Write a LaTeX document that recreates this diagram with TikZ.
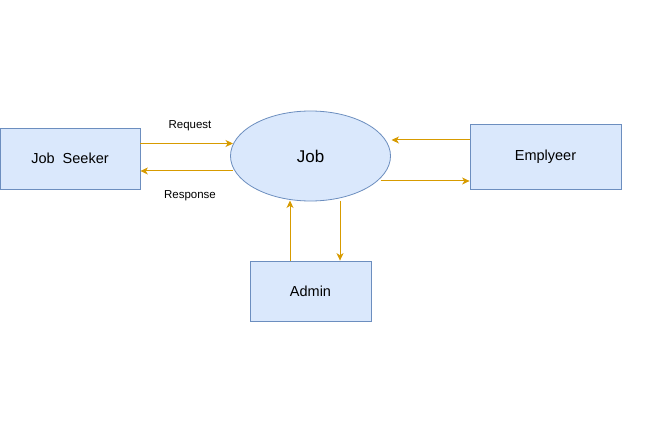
\documentclass[tikz,border=0pt]{standalone}
\usepackage{fontspec}
\setmainfont{Liberation Sans}
\usetikzlibrary{arrows.meta,shapes.geometric,calc}
\definecolor{boxfill}{HTML}{DAE8FC}
\definecolor{boxline}{HTML}{6C8EBF}
\definecolor{flowc}{HTML}{D79B00}
\tikzset{
  entity/.style={draw=boxline, fill=boxfill, line width=0.8pt, inner sep=0pt,
    font=\fontsize{14.5}{17}\selectfont},
  proc/.style={ellipse, draw=boxline, fill=boxfill, line width=0.8pt, inner sep=0pt,
    minimum width=160pt, minimum height=90pt, font=\fontsize{17}{20}\selectfont},
  flow/.style={draw=flowc, line width=1pt, -{Stealth[length=7.5pt,width=7pt,inset=2.2pt]}},
  lbl/.style={font=\fontsize{11.5}{14}\selectfont, inner sep=0pt}
}
\begin{document}
\begin{tikzpicture}[x=1pt,y=-1pt]
\useasboundingbox (0,0) rectangle (652,446);
\fill[white] (0,0) rectangle (652,446);
\node[entity, minimum width=140pt, minimum height=61pt] (js) at (70,158.5) {Job\ \ Seeker};
\node[proc] (job) at (310.5,156) {Job};
\node[entity, minimum width=151pt, minimum height=65pt] (emp) at (545.5,156.5) {Emplyeer};
\node[entity, minimum width=121pt, minimum height=60pt] (adm) at (310.5,291) {Admin};
% connectors
\draw[flow] (js.east |- 0,143.5) -- ($(job.center)+(-77.5,-12.5)$);
\draw[flow] ($(job.center)+(-78,15)$) -- (js.east |- 0,171);
\draw[flow] (emp.west |- 0,140) -- ($(job.center)+(81,-16)$);
\draw[flow] ($(job.center)+(70,25)$) -- (emp.west |- 0,181);
\draw[flow] (adm.north -| 290,0) -- ($(job.center)+(-20.5,44.5)$);
\draw[flow] ($(job.center)+(29.5,45)$) -- (adm.north -| 340,0);
% labels
\node[lbl] (req) at (190,126) {Request};
\node[lbl] (resp) at (190,195.5) {Response};
\end{tikzpicture}
\end{document}
